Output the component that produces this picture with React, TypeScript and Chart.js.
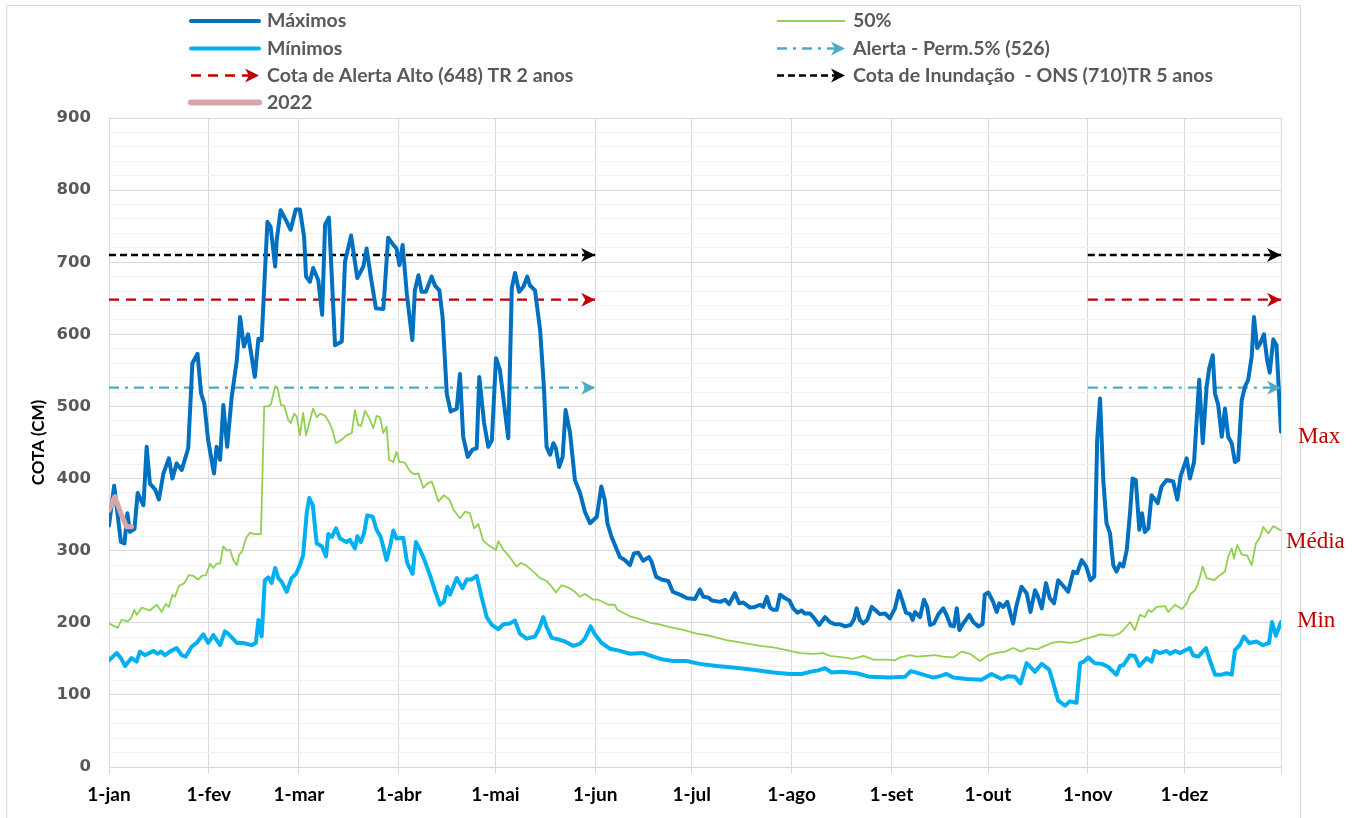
import React, { useEffect, useRef } from "react";
import { Chart, registerables } from "chart.js";

Chart.register(...registerables);

// ---------- categories / ticks ----------
const monthTickDays = [0, 31, 59, 90, 120, 151, 181, 212, 243, 273, 304, 334];
const monthTickLabels = ["1-jan", "1-fev", "1-mar", "1-abr", "1-mai", "1-jun", "1-jul", "1-ago", "1-set", "1-out", "1-nov", "1-dez"];
const lastDay = 364;
const yTickValues = [0, 100, 200, 300, 400, 500, 600, 700, 800, 900];

// ---------- Máximos ----------
const maxDays = [
  0, 1.6, 3.7, 4.8, 5.7, 6.5, 7.9, 8.9, 10.7, 11.7,
  12.7, 14.3, 15.5, 16.9, 18.6, 19.7, 21, 22.6, 24.6, 25.9,
  27.5, 28.6, 29.6, 30.8, 32.6, 33.4, 34.5, 35.5, 36.7, 38.1,
  39.7, 40.7, 41.9, 43.2, 45.3, 46.4, 47.4, 49.2, 50.2, 51.6,
  52.1, 53.3, 55, 56.4, 58, 59.3, 60.6, 61.2, 62.4, 63.4,
  65, 66.2, 67.1, 68.3, 69.2, 70.2, 72.3, 73.3, 75.2, 77.1,
  79, 80, 81.3, 82.9, 85.2, 86.7, 88.3, 89.3, 90.2, 91.2,
  92.5, 94.2, 95, 96.1, 97.1, 98.4, 100.2, 101.2, 102.6, 103.6,
  104.9, 106.1, 108, 109, 110, 111.4, 112.9, 114.2, 115, 116.5,
  117.8, 118.9, 120.2, 121.4, 124, 125.1, 126.1, 127.4, 128.7, 129.9,
  130.7, 132.3, 133.9, 135.1, 135.9, 137, 138, 138.8, 139.8, 140.9,
  141.8, 143.2, 144.7, 146.3, 147.8, 149.4, 151.5, 152.9, 154, 154.8,
  156.1, 158.7, 160.2, 161.8, 163, 164.4, 165.9, 167.7, 168.5, 169.9,
  171.6, 173.7, 175.1, 177.3, 179.6, 182, 183.5, 184.6, 186.1, 187.2,
  189.8, 191.3, 192.6, 194.4, 195.7, 197, 199.1, 200.6, 202.2, 203.2,
  204.3, 205.3, 206.3, 207.4, 208.4, 210, 211.3, 212.5, 213.8, 215.1,
  216.1, 217.7, 218.7, 220.6, 222.4, 223.9, 225.5, 227, 228.6, 230.3,
  231.4, 232.2, 233.2, 234.2, 235.5, 236.9, 237.9, 239.4, 241, 242.5,
  244.1, 245.4, 246.5, 247.5, 248.8, 249.6, 250.3, 251.9, 253.1, 254.1,
  255, 256.2, 257.5, 259.1, 260.1, 261.4, 262.4, 263.3, 264.1, 265.3,
  267.2, 268.4, 270, 271.3, 272, 273.1, 274.6, 275.7, 276.5, 277.7,
  279, 280.8, 281.9, 283.4, 285, 286.2, 287.6, 288.3, 289.7, 291,
  292.2, 293.5, 294.8, 296.4, 297.9, 299.5, 300.7, 302.1, 303.5, 304.8,
  306, 306.9, 307.8, 308.8, 309.8, 310.9, 311.9, 312.9, 314, 315,
  316.1, 317.1, 317.9, 318.9, 320, 320.8, 321.7, 322.8, 323.8, 325.7,
  326.9, 328.5, 330.5, 331.8, 332.8, 334.7, 335.7, 337, 337.8, 338.6,
  339.7, 340.9, 341.7, 342.8, 343.5, 344.5, 345.6, 346.6, 347.6, 348.7,
  349.7, 350.7, 351.8, 352.8, 353.8, 354.9, 355.6, 356.6, 357.5, 358.7,
  359.7, 360.5, 361.6, 362.6, 364,
];
const maxValues = [
  335, 390, 312, 310, 352, 326, 330, 380, 363, 444,
  393, 385, 371, 407, 428, 400, 421, 412, 442, 560,
  573, 518, 504, 453, 407, 444, 426, 502, 444, 513,
  564, 624, 583, 600, 541, 594, 592, 756, 749, 694,
  731, 772, 758, 745, 773, 773, 735, 680, 673, 692,
  675, 627, 752, 762, 680, 585, 590, 701, 737, 678,
  694, 719, 680, 636, 635, 734, 724, 719, 696, 724,
  656, 592, 661, 682, 659, 659, 680, 668, 661, 624,
  518, 493, 497, 545, 458, 430, 440, 442, 541, 477,
  444, 453, 567, 551, 456, 664, 685, 659, 666, 680,
  668, 661, 606, 525, 444, 433, 449, 442, 416, 430,
  495, 463, 398, 380, 354, 338, 347, 389, 370, 338,
  319, 291, 287, 280, 296, 297, 286, 291, 285, 264,
  260, 258, 243, 239, 234, 233, 246, 236, 235, 231,
  229, 232, 226, 241, 227, 228, 221, 222, 225, 222,
  236, 221, 218, 218, 239, 234, 231, 220, 214, 217,
  213, 213, 208, 197, 208, 201, 198, 198, 195, 197,
  205, 220, 204, 199, 204, 222, 218, 212, 213, 206,
  220, 244, 229, 214, 212, 204, 215, 208, 232, 222,
  197, 199, 211, 220, 211, 196, 195, 220, 190, 199,
  211, 201, 195, 198, 239, 242, 229, 215, 227, 222,
  229, 199, 225, 250, 241, 215, 245, 239, 220, 255,
  234, 227, 259, 251, 243, 271, 269, 287, 278, 259,
  264, 453, 511, 398, 338, 324, 280, 271, 282, 278,
  301, 352, 400, 398, 329, 352, 326, 331, 377, 366,
  389, 398, 396, 371, 403, 428, 400, 423, 481, 537,
  449, 527, 553, 571, 518, 502, 458, 497, 458, 449,
  423, 426, 509, 527, 537, 569, 624, 581, 587, 600,
  564, 547, 593, 585, 465,
];

// ---------- Mínimos ----------
const minDays = [
  0, 2.4, 3.7, 5, 7, 8.6, 9.6, 11.2, 13.8, 15.1,
  16.1, 17.4, 18.9, 21, 22.6, 23.8, 25.7, 27.2, 29.3, 30.8,
  32.4, 34.5, 36, 37, 39.7, 41.7, 44.3, 45.6, 46.4, 47.4,
  48.4, 49.5, 50.5, 51.6, 52.6, 53.6, 55.2, 56.7, 58.1, 59.3,
  60.3, 61.4, 62.2, 63.3, 64.5, 66.1, 67.4, 68.1, 69.2, 70.5,
  71.7, 73.8, 74.8, 76.4, 77.1, 78.2, 79.2, 80.2, 81.9, 83.1,
  84.4, 86.2, 87.3, 88.3, 89.3, 91.4, 92.6, 94.3, 95.3, 96.6,
  97.8, 99.7, 101.2, 102.8, 104, 105.1, 105.9, 108, 109.8, 111.1,
  112.6, 114.2, 115.7, 117.3, 118.9, 120.9, 122.5, 124.5, 126.1, 127.6,
  129.7, 132.3, 133.6, 134.9, 135.9, 137.5, 139.5, 141.6, 144.2, 146.3,
  147.8, 149.6, 150.9, 153, 155.6, 158.7, 161.8, 165.9, 169, 172.1,
  175.2, 179.4, 183.5, 188.7, 193.9, 200.1, 206.3, 211.5, 215.1, 217.7,
  220.3, 222.4, 224.4, 227.5, 232.2, 236.3, 242.5, 247.2, 249, 250.8,
  252.9, 256, 258.1, 260.1, 262.2, 266.4, 271, 274.1, 277.2, 279.3,
  281.4, 283.1, 285, 287.6, 289.7, 292, 293.3, 294.8, 296.9, 298.4,
  300.5, 301.6, 302.8, 304.1, 306.2, 308.3, 310.3, 312.9, 314, 315,
  317.1, 318.6, 320, 322.3, 323.8, 324.8, 326.4, 328.5, 329.5, 331.1,
  332.6, 335.7, 336.7, 338.3, 340.7, 341.9, 343.5, 345.6, 347.1, 348.7,
  349.7, 351.2, 352.5, 354.1, 356.4, 358.4, 360.3, 361.2, 362.4, 364,
];
const minValues = [
  148, 158, 151, 140, 151, 146, 160, 155, 161, 157,
  160, 155, 160, 165, 155, 153, 167, 172, 184, 172,
  183, 169, 188, 185, 172, 172, 169, 172, 204, 181,
  259, 263, 255, 276, 262, 257, 243, 262, 268, 280,
  294, 352, 373, 363, 310, 306, 292, 323, 319, 331,
  317, 312, 315, 303, 320, 312, 324, 349, 347, 329,
  319, 287, 306, 328, 317, 318, 283, 268, 312, 301,
  289, 266, 245, 225, 229, 250, 239, 262, 248, 260,
  260, 265, 236, 208, 197, 191, 198, 199, 203, 185,
  178, 181, 192, 208, 194, 179, 177, 174, 168, 171,
  178, 195, 184, 172, 164, 161, 157, 158, 153, 149,
  147, 147, 143, 140, 138, 135, 131, 129, 129, 132,
  134, 137, 131, 132, 130, 125, 124, 125, 133, 131,
  128, 124, 126, 129, 124, 122, 121, 129, 122, 126,
  125, 116, 144, 132, 143, 135, 116, 92, 85, 91,
  89, 144, 146, 152, 144, 143, 139, 128, 140, 141,
  155, 154, 140, 151, 146, 161, 158, 161, 157, 161,
  158, 165, 155, 153, 165, 148, 128, 128, 130, 128,
  162, 169, 181, 172, 174, 169, 172, 201, 182, 201,
];

// ---------- 50% ----------
const medDays = [
  0, 2.7, 3.9, 5.8, 6.8, 7.9, 8.6, 10.2, 12.7, 14.8,
  16.4, 17.6, 18.6, 19.7, 20.5, 21.7, 23.4, 24.8, 26.2, 27.7,
  28.8, 30.1, 31.4, 32.4, 33.4, 34.5, 35.5, 36.6, 37.6, 38.6,
  39.7, 40.4, 41.4, 42.5, 43.8, 45.1, 47.2, 48.2, 49.5, 50.3,
  51.6, 52.4, 53.4, 54.4, 55.7, 56.5, 57.5, 58.3, 59.3, 60.3,
  61.2, 62.2, 63.4, 64.5, 65.7, 67.1, 68.1, 69.2, 70.5, 72.3,
  73.8, 75.4, 76.4, 77.4, 78.3, 79.5, 80.8, 82.1, 83.1, 84.2,
  85.2, 86.2, 87, 88.3, 89.3, 90.2, 91.9, 93.5, 94.7, 96.1,
  97.6, 98.9, 100.2, 101.2, 102.3, 104, 105.7, 107.1, 109, 110.6,
  112.1, 113.4, 114.7, 116.2, 118.3, 120.2, 120.9, 122.5, 124.3, 126.6,
  127.9, 129.7, 131.8, 133.9, 135.9, 137.5, 138.8, 140.6, 143, 144.7,
  146.3, 147.8, 150.4, 152, 155.1, 157.1, 157.9, 161.8, 164.9, 168,
  170.6, 174.2, 178.4, 182.5, 186.6, 191.8, 197, 202.2, 206.3, 210.5,
  214.6, 218.7, 221.8, 223.9, 228, 231.1, 234.3, 237.4, 241.5, 244.1,
  245.7, 248.8, 250.8, 253.9, 256.5, 259.1, 262.2, 264.8, 267.4, 270.5,
  273.1, 275.2, 278.3, 280.8, 283.4, 285.5, 288.1, 290.7, 292.8, 295.3,
  298.4, 301, 302.6, 305.2, 307.8, 309.8, 311.9, 313.8, 315.5, 317.1,
  318.6, 320.2, 321.7, 322.8, 323.8, 325.4, 328, 329, 331.1, 333.2,
  334.7, 335.9, 337.3, 338.3, 339.7, 340.9, 343.2, 345, 346.6, 347.6,
  348.7, 349.4, 350.4, 351.8, 353.5, 354.9, 356.2, 357.5, 358.5, 360.1,
  361.6, 364,
];
const medValues = [
  199, 193, 204, 202, 206, 218, 211, 221, 217, 225,
  215, 226, 222, 239, 236, 251, 255, 266, 265, 260,
  265, 266, 282, 276, 282, 282, 306, 300, 301, 287,
  280, 294, 300, 317, 325, 323, 323, 500, 500, 503,
  528, 525, 502, 501, 481, 477, 490, 486, 460, 491,
  460, 477, 497, 485, 490, 487, 480, 470, 449, 454,
  460, 463, 495, 474, 473, 494, 484, 470, 487, 485,
  463, 472, 426, 423, 437, 423, 422, 410, 406, 407,
  387, 393, 396, 384, 368, 377, 371, 356, 345, 354,
  352, 331, 337, 314, 306, 301, 313, 301, 292, 278,
  283, 279, 271, 262, 258, 250, 242, 252, 248, 243,
  236, 240, 232, 232, 225, 225, 218, 209, 205, 200,
  198, 194, 190, 185, 182, 176, 172, 168, 166, 162,
  158, 157, 158, 154, 152, 150, 154, 149, 149, 148,
  152, 155, 153, 154, 155, 153, 152, 160, 157, 147,
  155, 158, 160, 165, 160, 165, 163, 168, 172, 174,
  172, 174, 177, 180, 184, 183, 182, 185, 192, 201,
  190, 211, 208, 218, 215, 222, 223, 215, 225, 219,
  227, 240, 245, 255, 278, 262, 259, 266, 271, 292,
  303, 289, 308, 295, 293, 280, 310, 319, 333, 324,
  334, 328,
];

// ---------- 2022 ----------
const y2022Days = [0, 1.8, 3.9, 5.5, 7];
const y2022Values = [356, 375, 349, 333, 333];

// ---------- reference levels ----------
const alertSegments = [
  [0, 151],
  [304, 364],
];
const cotaInundacao = 710;
const cotaAlertaAlto = 648;
const alertaPerm5 = 526;

// ---------- colours ----------
const C_MAX = "#0070C0";
const C_MIN = "#00B0F0";
const C_MED = "#92D050";
const C_2022 = "#D8A6A6";
const C_RED = "#C00000";
const C_CYAN = "#4BACC6";
const C_BLACK = "#000000";

const toPoints = (days: number[], vals: number[]) => days.map((d, i) => ({ x: d, y: vals[i] }));
const levelPoints = (v: number) => {
  const pts: any[] = [];
  alertSegments.forEach((s, i) => {
    if (i > 0) pts.push({ x: s[0] - 1, y: null });
    pts.push({ x: s[0], y: v });
    pts.push({ x: s[1], y: v });
  });
  return pts;
};

function drawArrow(ctx: CanvasRenderingContext2D, x: number, y: number, color: string) {
  ctx.save();
  ctx.fillStyle = color;
  ctx.beginPath();
  ctx.moveTo(x, y);
  ctx.lineTo(x - 14, y - 7);
  ctx.lineTo(x - 10, y);
  ctx.lineTo(x - 14, y + 7);
  ctx.closePath();
  ctx.fill();
  ctx.restore();
}

const arrowPlugin = {
  id: "arrowHeads",
  afterDatasetsDraw(chart: any) {
    const ctx = chart.ctx;
    chart.data.datasets.forEach((ds: any, i: number) => {
      if (!ds.arrowHead) return;
      const pts = chart.getDatasetMeta(i).data;
      for (let k = 0; k < pts.length; k++) {
        const p = pts[k];
        if (!p || p.skip) continue;
        const next = pts[k + 1];
        const prev = pts[k - 1];
        if ((!next || next.skip) && prev && !prev.skip) drawArrow(ctx, p.x, p.y, ds.borderColor);
      }
    });
  },
};

const LEGEND_FONT = "bold 19.5px Lato";

const decorPlugin = {
  id: "decor",
  afterDraw(chart: any) {
    const ctx: CanvasRenderingContext2D = chart.ctx;
    ctx.save();
    // outer frame
    ctx.strokeStyle = "#d9d9d9";
    ctx.lineWidth = 1;
    ctx.strokeRect(6.5, 5.5, 1294, 900);

    // legend
    const rows = [21, 48.5, 75.5, 102.5];
    const drawLine = (x1: number, x2: number, y: number, color: string, w: number, dash: number[], cap: CanvasLineCap) => {
      ctx.save();
      ctx.strokeStyle = color;
      ctx.lineWidth = w;
      ctx.setLineDash(dash);
      ctx.lineCap = cap;
      ctx.beginPath();
      ctx.moveTo(x1, y);
      ctx.lineTo(x2, y);
      ctx.stroke();
      ctx.restore();
    };
    const text = (t: string, x: number, y: number) => {
      ctx.save();
      ctx.font = LEGEND_FONT;
      ctx.fillStyle = "#595959";
      ctx.textBaseline = "middle";
      ctx.textAlign = "left";
      ctx.fillText(t, x, y);
      ctx.restore();
    };
    const ds = chart.data.datasets;
    const lx1 = 191, lx2 = 259, lt = 267;
    const rx1 = 777, rx2 = 845, rt = 853;
    drawLine(lx1, lx2, rows[0], C_MAX, 4, [], "round");
    text(ds[1].label, lt, rows[0]);
    drawLine(lx1, lx2, rows[1], C_MIN, 4, [], "round");
    text(ds[2].label, lt, rows[1]);
    drawLine(lx1, lx2 - 10, rows[2], C_RED, 2.5, [10, 7], "butt");
    drawArrow(ctx, lx2, rows[2], C_RED);
    text(ds[5].label, lt, rows[2]);
    drawLine(lx1, lx2, rows[3], C_2022, 6, [], "round");
    text(ds[0].label, lt, rows[3]);

    drawLine(rx1, rx2, rows[0], C_MED, 2, [], "butt");
    text(ds[3].label, rt, rows[0]);
    drawLine(rx1, rx2 - 10, rows[1], C_CYAN, 2.5, [10, 6, 3, 6], "butt");
    drawArrow(ctx, rx2, rows[1], C_CYAN);
    text(ds[6].label, rt, rows[1]);
    drawLine(rx1, rx2 - 10, rows[2], C_BLACK, 2.5, [7, 4], "butt");
    drawArrow(ctx, rx2, rows[2], C_BLACK);
    text(ds[4].label, rt, rows[2]);

    // right annotations
    ctx.font = "23px 'Liberation Serif'";
    ctx.fillStyle = "#C00000";
    ctx.textBaseline = "middle";
    ctx.textAlign = "left";
    ctx.fillText("Max", 1298, 437);
    ctx.fillText("Média", 1286, 542);
    ctx.fillText("Min", 1297, 621);
    ctx.restore();
  },
};

export default function App() {
  const canvasRef = useRef<HTMLCanvasElement | null>(null);

  useEffect(() => {
    const canvas = canvasRef.current;
    if (!canvas) return;
    const base = { pointRadius: 0, pointHoverRadius: 0, fill: false, tension: 0, borderJoinStyle: "round" as const };
    const chart = new Chart(canvas, {
      type: "line",
      data: {
        datasets: [
          { ...base, label: "2022", data: toPoints(y2022Days, y2022Values), borderColor: C_2022, borderWidth: 5, borderCapStyle: "round", order: 0 },
          { ...base, label: "Máximos", data: toPoints(maxDays, maxValues), borderColor: C_MAX, borderWidth: 4, borderCapStyle: "round", order: 1 },
          { ...base, label: "Mínimos", data: toPoints(minDays, minValues), borderColor: C_MIN, borderWidth: 4, borderCapStyle: "round", order: 2 },
          { ...base, label: "50%", data: toPoints(medDays, medValues), borderColor: C_MED, borderWidth: 1.8, order: 3 },
          { ...base, label: "Cota de Inundação  - ONS (710)TR 5 anos", data: levelPoints(cotaInundacao), borderColor: C_BLACK, borderWidth: 2.3, borderDash: [7, 4], spanGaps: false, order: 4, arrowHead: true } as any,
          { ...base, label: "Cota de Alerta Alto (648) TR 2 anos", data: levelPoints(cotaAlertaAlto), borderColor: C_RED, borderWidth: 2.3, borderDash: [10, 7], spanGaps: false, order: 5, arrowHead: true } as any,
          { ...base, label: "Alerta - Perm.5% (526)", data: levelPoints(alertaPerm5), borderColor: C_CYAN, borderWidth: 2.3, borderDash: [10, 6, 3, 6], spanGaps: false, order: 6, arrowHead: true } as any,
        ],
      },
      options: {
        responsive: false,
        animation: false,
        devicePixelRatio: 1,
        layout: { padding: { left: 0, top: 118, right: 82, bottom: 0 } },
        plugins: { legend: { display: false }, tooltip: { enabled: false } },
        scales: {
          x: {
            type: "linear",
            min: 0,
            max: lastDay,
            afterBuildTicks: (s: any) => {
              s.ticks = [...monthTickDays, lastDay].map((v) => ({ value: v }));
            },
            afterFit: (s: any) => {
              s.height = 51;
            },
            ticks: {
              autoSkip: false,
              maxRotation: 0,
              minRotation: 0,
              padding: 9,
              color: "#000000",
              font: { family: "Lato", size: 19, weight: "bold" },
              callback: (v: any) => {
                const i = monthTickDays.indexOf(Number(v));
                return i >= 0 ? monthTickLabels[i] : "";
              },
            },
            grid: { color: "#d9d9d9", lineWidth: 1, drawTicks: true, tickLength: 7 },
            border: { color: "#d9d9d9" },
          },
          y: {
            type: "linear",
            min: 0,
            max: 900,
            afterFit: (s: any) => {
              s.width = 109;
            },
            ticks: {
              stepSize: 20,
              autoSkip: false,
              padding: 18,
              color: "#595959",
              font: { family: "DejaVu Sans", size: 16.5, weight: "bold" },
              callback: (v: any) => (yTickValues.includes(Number(v)) ? String(v) : ""),
            },
            grid: {
              drawTicks: false,
              lineWidth: 1,
              color: (ctx: any) => (ctx.tick && yTickValues.includes(ctx.tick.value) ? "#d9d9d9" : "#f0f0f0"),
            },
            border: { display: false },
            title: {
              display: true,
              text: "COTA (CM)",
              color: "#000000",
              font: { family: "Lato", size: 17, weight: "bold" },
              padding: { top: 28, bottom: 0 },
            },
          },
        },
      } as any,
      plugins: [arrowPlugin, decorPlugin],
    });
    return () => chart.destroy();
  }, []);

  return (
    <div style={{ position: "absolute", left: 0, top: 0, width: 1363, height: 818, background: "#ffffff" }}>
      <canvas ref={canvasRef} width={1363} height={818} style={{ display: "block", width: 1363, height: 818 }} />
    </div>
  );
}
